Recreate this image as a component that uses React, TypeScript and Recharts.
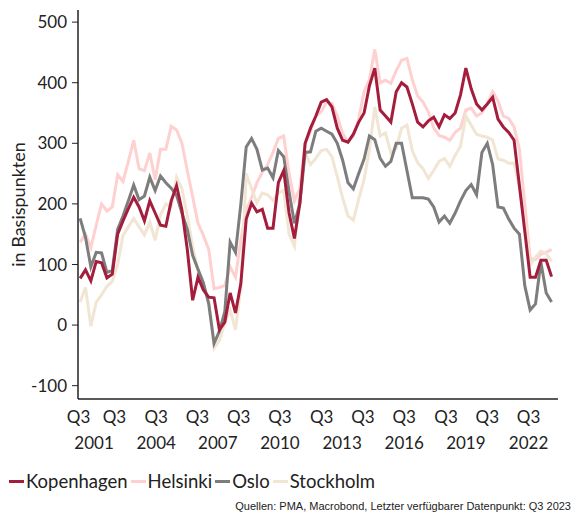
import { LineChart, Line, XAxis, YAxis, Label } from 'recharts';

// Quarterly spreads from Q3 2001 to Q3 2023, in basis points
const kopenhagen = [
  77, 91, 73, 105, 103, 78, 84, 150, 172, 192,
  211, 195, 172, 205, 185, 165, 163, 205, 230, 190,
  125, 41, 79, 58, 46, 45, -8, 5, 53, 20,
  69, 175, 201, 187, 191, 160, 160, 235, 255, 185,
  143, 200, 300, 325, 345, 368, 372, 360, 325, 305,
  302, 315, 335, 350, 395, 424, 355, 345, 335, 385,
  400, 393, 365, 335, 327, 337, 343, 327, 347, 341,
  350, 380, 424, 390, 365, 355, 365, 376, 340, 327,
  318, 305, 230, 155, 79, 79, 107, 107, 80,
];
const helsinki = [
  137, 150, 128, 165, 200, 188, 195, 248, 237, 270,
  305, 258, 255, 284, 240, 290, 290, 328, 322, 300,
  255, 212, 168, 148, 125, 60, 62, 65, 96, 79,
  140, 190, 210, 235, 252, 265, 285, 308, 312, 250,
  205, 225, 300, 320, 345, 352, 368, 366, 345, 316,
  302, 312, 340, 385, 405, 455, 400, 404, 399, 420,
  437, 440, 405, 378, 368, 352, 325, 313, 310, 305,
  318, 325, 355, 358, 345, 350, 365, 385, 370, 345,
  341, 327, 290, 200, 110, 108, 117, 120, 125,
];
const oslo = [
  176, 145, 96, 120, 119, 87, 90, 158, 180, 205,
  231, 207, 213, 244, 222, 246, 235, 226, 214, 185,
  158, 115, 92, 70, 35, -30, -10, 22, 137, 120,
  200, 294, 308, 290, 256, 259, 243, 288, 278, 220,
  168, 200, 285, 286, 320, 325, 320, 315, 300, 272,
  235, 225, 250, 274, 312, 306, 275, 262, 270, 300,
  300, 255, 210, 210, 210, 208, 195, 170, 180, 168,
  185, 205, 222, 232, 215, 285, 300, 265, 195, 193,
  175, 160, 150, 65, 25, 35, 104, 53, 38,
];
const stockholm = [
  38, 62, -2, 38, 50, 64, 72, 100, 148, 162,
  176, 162, 149, 170, 140, 182, 200, 195, 244, 225,
  180, 130, 90, 63, 40, -38, -25, 3, 25, -8,
  63, 250, 225, 202, 218, 215, 206, 218, 222, 150,
  130, 215, 285, 265, 275, 288, 290, 278, 245, 210,
  180, 173, 208, 240, 290, 360, 312, 317, 284, 292,
  325, 330, 288, 268, 258, 242, 255, 270, 275, 262,
  280, 295, 345, 330, 315, 312, 310, 305, 274, 272,
  267, 267, 228, 170, 100, 112, 122, 118, 105,
];

const series = [
  { key: 'kopenhagen', name: 'Kopenhagen', color: '#a51d3c' },
  { key: 'helsinki', name: 'Helsinki', color: '#ffd0d0' },
  { key: 'oslo', name: 'Oslo', color: '#7d7d7d' },
  { key: 'stockholm', name: 'Stockholm', color: '#f1e5d3' },
];
// drawing order: darkest on top
const drawOrder = ['helsinki', 'stockholm', 'oslo', 'kopenhagen'];

const yTicks = [-100, 0, 100, 200, 300, 400, 500];
// label positions on the quarter index axis
const q3Ticks = [-0.3, 6.4, 14.2, 21.9, 29.6, 37.3, 45.1, 52.8, 60.5, 68.3, 76.0, 83.7];
const yearTicks = [2.6, 14.2, 25.7, 37.3, 48.9, 60.5, 72.0, 83.7];
const yearLabels = ['2001', '2004', '2007', '2010', '2013', '2016', '2019', '2022'];

const X_DOMAIN: [number, number] = [-0.4, 89.2];
const minorTicks = Array.from({ length: 70 }, (_, k) => X_DOMAIN[0] + (k * (X_DOMAIN[1] - X_DOMAIN[0])) / 69);

const FONT = 'Lato, "Open Sans", sans-serif';
const INK = '#222';

const data = kopenhagen.map((v, i) => ({
  i,
  kopenhagen: v,
  helsinki: helsinki[i],
  oslo: oslo[i],
  stockholm: stockholm[i],
}));

function AxisTitle(props: any) {
  const vb = props.viewBox || { y: 10, height: 389 };
  const cy = vb.y + vb.height / 2;
  return (
    <text
      x={18}
      y={cy}
      transform={`rotate(-90 18 ${cy})`}
      textAnchor="middle"
      dominantBaseline="central"
      fill={INK}
      fontSize={18}
      fontFamily={FONT}
    >
      in Basispunkten
    </text>
  );
}

export default function App() {
  const tickStyle = { fill: INK, fontSize: 17, fontFamily: FONT };
  return (
    <div style={{ position: 'absolute', left: 0, top: 0, width: 572, height: 513, overflow: 'hidden', background: '#fff' }}>
      <LineChart
        width={572}
        height={513}
        data={data}
        margin={{ top: 10, right: 14, left: 0, bottom: 56 }}
      >
        <XAxis
          xAxisId="main"
          dataKey="i"
          type="number"
          domain={X_DOMAIN}
          allowDataOverflow
          ticks={minorTicks}
          interval={0}
          tick={false}
          tickSize={4}
          height={6}
          axisLine={{ stroke: INK, strokeWidth: 1.5 }}
          tickLine={{ stroke: INK, strokeWidth: 1 }}
        />
        <XAxis
          xAxisId="q3"
          dataKey="i"
          type="number"
          domain={X_DOMAIN}
          allowDataOverflow
          ticks={q3Ticks}
          interval={0}
          tickFormatter={() => 'Q3'}
          axisLine={false}
          tickLine={false}
          tickSize={0}
          tickMargin={6}
          height={22}
          tick={tickStyle}
        />
        <XAxis
          xAxisId="years"
          dataKey="i"
          type="number"
          domain={X_DOMAIN}
          allowDataOverflow
          ticks={yearTicks}
          interval={0}
          tickFormatter={(_v: number, idx: number) => yearLabels[idx]}
          axisLine={false}
          tickLine={false}
          tickSize={0}
          tickMargin={10}
          height={30}
          tick={tickStyle}
        />
        <YAxis
          width={78}
          domain={[-122, 520]}
          allowDataOverflow
          ticks={yTicks}
          interval={0}
          tickSize={6}
          tickMargin={5}
          axisLine={{ stroke: INK, strokeWidth: 1.5 }}
          tickLine={{ stroke: INK, strokeWidth: 1 }}
          tick={tickStyle}
        >
          <Label content={AxisTitle} />
        </YAxis>
        {drawOrder.map((key) => {
          const s = series.find((x) => x.key === key)!;
          return (
            <Line
              key={key}
              xAxisId="main"
              dataKey={key}
              name={s.name}
              stroke={s.color}
              strokeWidth={3}
              dot={false}
              activeDot={false}
              isAnimationActive={false}
            />
          );
        })}
      </LineChart>

      <div
        style={{
          position: 'absolute',
          left: 9,
          top: 470,
          display: 'flex',
          alignItems: 'center',
          fontFamily: FONT,
          fontSize: 18.5,
          lineHeight: '22px',
          color: INK,
        }}
      >
        {series.map((s) => (
          <div key={s.key} style={{ display: 'flex', alignItems: 'center', marginRight: 3 }}>
            <span style={{ display: 'inline-block', width: 15, height: 3, background: s.color, marginRight: 2 }} />
            <span>{s.name}</span>
          </div>
        ))}
      </div>

      <div
        style={{
          position: 'absolute',
          right: 1,
          top: 500,
          fontFamily: '"Liberation Sans", Arial, sans-serif',
          fontSize: 11,
          lineHeight: '13px',
          color: INK,
          whiteSpace: 'nowrap',
        }}
      >
        Quellen: PMA, Macrobond, Letzter verfügbarer Datenpunkt: Q3 2023
      </div>
    </div>
  );
}
